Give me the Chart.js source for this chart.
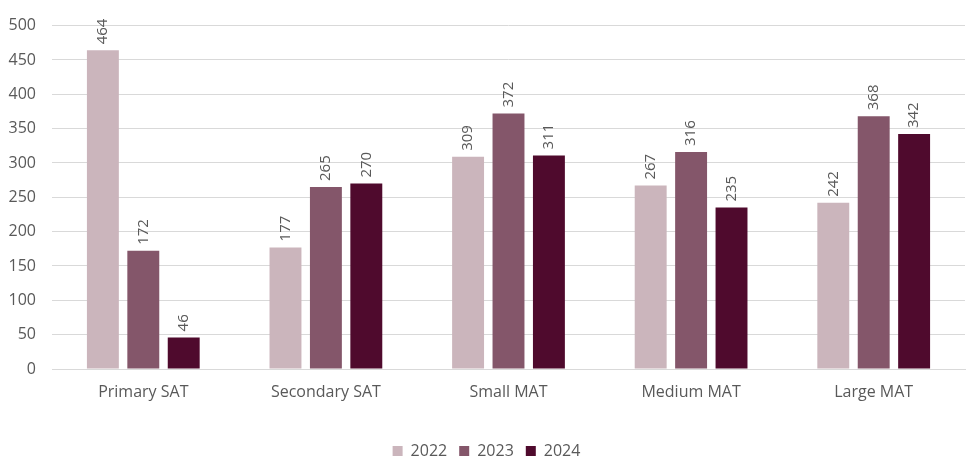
<!DOCTYPE html>
<html>
<head>
<meta charset="utf-8">
<script src="https://cdn.jsdelivr.net/npm/chart.js@4/dist/chart.umd.min.js"></script>
<style>
  html, body { margin: 0; padding: 0; background: #fff; }
  #wrap { width: 966px; height: 460px; position: relative; }
</style>
</head>
<body>
<div id="wrap"><canvas id="trustChart"></canvas></div>
<script>
const categories = ['Primary SAT', 'Secondary SAT', 'Small MAT', 'Medium MAT', 'Large MAT'];
const years = ['2022', '2023', '2024'];
const values2022 = [464, 177, 309, 267, 242];
const values2023 = [172, 265, 372, 316, 368];
const values2024 = [46, 270, 311, 235, 342];
const yearColours = ['#cbb5bc', '#84566a', '#4f0a2d'];

const textGrey = '#595959';
const fontFamily = "'Open Sans', sans-serif";

// writes each bar's value vertically just above the bar
const barValueLabels = {
    id: 'barValueLabels',
    afterDatasetsDraw(chart) {
        const ctx = chart.ctx;
        ctx.save();
        ctx.fillStyle = textGrey;
        ctx.font = `15px ${fontFamily}`;
        ctx.textAlign = 'left';
        ctx.textBaseline = 'middle';
        chart.data.datasets.forEach((ds, i) => {
            chart.getDatasetMeta(i).data.forEach((bar, j) => {
                ctx.save();
                ctx.translate(bar.x, bar.y - 6);
                ctx.rotate(-Math.PI / 2);
                ctx.fillText(String(ds.data[j]), 0, 0);
                ctx.restore();
            });
        });
        ctx.restore();
    }
};

new Chart(document.getElementById('trustChart'), {
    type: 'bar',
    data: {
        labels: categories,
        datasets: [values2022, values2023, values2024].map((data, i) => ({
            label: years[i],
            data: data,
            backgroundColor: yearColours[i],
            categoryPercentage: 0.664,
            barPercentage: 0.79
        }))
    },
    options: {
        responsive: true,
        maintainAspectRatio: false,
        animation: false,
        layout: { padding: { left: 8, right: 1, top: 6, bottom: -9 } },
        scales: {
            x: {
                grid: { display: false },
                border: { display: true, color: '#d9d9d9' },
                ticks: { color: textGrey, font: { family: fontFamily, size: 16 }, padding: 6 },
                afterFit: (scale) => { scale.height = 62; }
            },
            y: {
                min: 0,
                max: 500,
                border: { display: false },
                grid: { color: '#d9d9d9', drawTicks: false },
                ticks: { stepSize: 50, color: textGrey, font: { family: fontFamily, size: 16 }, padding: 16 },
                afterFit: (scale) => { scale.width = 44; }
            }
        },
        plugins: {
            legend: {
                position: 'bottom',
                labels: {
                    boxWidth: 10,
                    boxHeight: 10,
                    padding: 12,
                    color: textGrey,
                    font: { family: fontFamily, size: 16 }
                }
            },
            tooltip: { enabled: false }
        }
    },
    plugins: [barValueLabels]
});
</script>
</body>
</html>
